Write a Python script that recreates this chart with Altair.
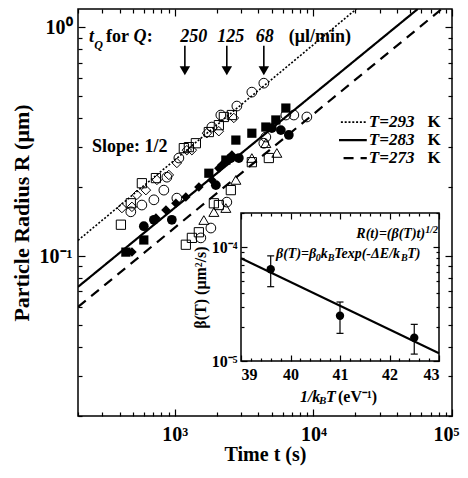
import altair as alt
import pandas as pd

FONT = "Liberation Serif"
W, H = 374, 407

# ---------------- main panel: time t (s), radius R (um) ----------------
# upper branch (open symbols, T = 293 K)
up_sq_t = [408, 481, 578, 730, 1161, 1262, 1418, 1759, 2077, 2257, 2578]
up_sq_R = [0.137, 0.170, 0.208, 0.219, 0.296, 0.299, 0.311, 0.348, 0.373, 0.405, 0.413]
up_di_t = [415, 490, 532, 618, 742, 905, 1034, 1220, 1327, 1702, 2077, 2665]
up_di_R = [0.162, 0.164, 0.185, 0.194, 0.215, 0.226, 0.255, 0.290, 0.290, 0.344, 0.351, 0.401]
up_ci_t = [481, 578, 706, 833, 876, 1034, 1069, 1849, 2147, 2802, 3594, 4386]
up_ci_R = [0.156, 0.167, 0.176, 0.194, 0.221, 0.179, 0.268, 0.366, 0.413, 0.452, 0.520, 0.569]
# middle branch (filled symbols, T = 283 K)
mid_sq_t = [443, 597, 1759, 2333, 2755, 3594, 4535, 5355, 6323]
mid_sq_R = [0.104, 0.1175, 0.230, 0.2625, 0.321, 0.344, 0.366, 0.393, 0.443]
mid_ci_t = [597, 706, 951, 1976, 2535, 2896, 5011, 5819, 6645]
mid_ci_R = [0.135, 0.144, 0.144, 0.204, 0.268, 0.268, 0.362, 0.355, 0.338]
mid_di_t = [490, 730, 862, 1017, 1200, 1490, 1849, 2077, 2182, 2578]
mid_di_R = [0.104, 0.1465, 0.159, 0.170, 0.181, 0.200, 0.215, 0.242, 0.250, 0.276]
# lower branch (open symbols, T = 273 K)
lo_sq_t = [1200, 1327, 1490, 1912, 2077, 2535, 3594, 4767]
lo_sq_R = [0.112, 0.120, 0.127, 0.170, 0.167, 0.194, 0.257, 0.268]
lo_ci_t = [1540, 1819, 2372, 4386, 4535, 6323, 7222, 8964]
lo_ci_R = [0.120, 0.1325, 0.172, 0.311, 0.331, 0.413, 0.413, 0.405]
lo_tr_t = [1619, 1912, 2333, 2755, 3594, 4535, 5445]
lo_tr_R = [0.1436, 0.1556, 0.162, 0.215, 0.268, 0.311, 0.282]

# fitted slope-1/2 lines (end points) and legend key samples
fit_T = ["293", "283", "273"]
fit_t0 = [200, 200, 200]
fit_R0 = [0.117, 0.0733, 0.0599]
fit_t1 = [20400, 56600, 84300]
fit_R1 = [1.2, 1.2, 1.2]
key_t0 = [15780, 15300, 16500]
key_t1 = [24270, 24270, 24270]
key_R = [0.3847, 0.3210, 0.2679]
key_lbl = ["T=293", "T=283", "T=273"]
key_lbl_t = 25100
key_K_t = 83000

# arrows marking t_Q
arrow_t = [1181, 2371, 4386]
arrow_R_top = 0.83
arrow_R_bot = 0.66
arrow_head_R = 0.645
q_vals = ["250", "125", "68"]
q_t = [1371, 2535, 4457]
q_R = 0.904

x_ticks = [200, 300, 400, 500, 600, 700, 800, 900,
           1000, 2000, 3000, 4000, 5000, 6000, 7000, 8000, 9000,
           10000, 20000, 30000, 40000, 50000, 60000, 70000, 80000, 90000, 100000]
y_ticks = [0.02, 0.03, 0.04, 0.05, 0.06, 0.07, 0.08, 0.09,
           0.1, 0.2, 0.3, 0.4, 0.5, 0.6, 0.7, 0.8, 0.9, 1.0]

# ---------------- inset: beta(T) vs 1/kBT ----------------
in_x = [39.6, 41.0, 42.5]
in_b = [6.4e-5, 2.5e-5, 1.6e-5]
in_lo = [4.5e-5, 1.75e-5, 1.15e-5]
in_hi = [8.4e-5, 3.3e-5, 2.1e-5]
in_fit_x = [39.0, 43.0]
in_fit_b = [8.0e-5, 1.17e-5]
in_x_ticks = [39 + 0.2 * i for i in range(21)]
in_y_ticks = [1e-5, 2e-5, 3e-5, 4e-5, 5e-5, 6e-5, 7e-5, 8e-5, 9e-5, 1e-4, 2e-4]

# ---------------- scales / axes ----------------
xs = alt.Scale(type="log", domain=[200, 100000], nice=False)
ys = alt.Scale(type="log", domain=[0.02, 1.2], nice=False)
xs_in = alt.Scale(type="linear", domain=[39, 43], range=[163, 361], nice=False, zero=False)
ys_in = alt.Scale(type="log", domain=[1e-5, 2e-4], range=[352, 204], nice=False)

x_major = "datum.value == 1000 || datum.value == 10000 || datum.value == 100000"
y_major = "datum.value == 0.1 || datum.value == 1"
ix_major = "abs(datum.value - round(datum.value)) < 0.01"
iy_major = "datum.value == 0.0001 || datum.value == 0.00001"


def tsize(test, big, small):
    return {"condition": {"test": test, "value": big}, "value": small}


ax_x = alt.Axis(values=[1000, 10000, 100000],
                labelExpr="datum.value == 1000 ? '10³' : datum.value == 10000 ? '10⁴' : '10⁵'",
                ticks=False, tickSize=0, domain=False, grid=False, labelFlush=True,
                labelFlushOffset=7, labelPadding=8, labelFontSize=20,
                title="Time t (s)", titleFontSize=20, titlePadding=0, zindex=1)
ax_y = alt.Axis(values=[0.1, 1.0],
                labelExpr="datum.value == 1 ? '10⁰' : '10⁻¹'",
                ticks=False, tickSize=0, domain=False, grid=False, labelPadding=6,
                labelFontSize=20, title="Particle Radius R (μm)", titleFontSize=22,
                titlePadding=6, zindex=1)

X = alt.X("t:Q", scale=xs, axis=ax_x)
Y = alt.Y("R:Q", scale=ys, axis=ax_y)


def pts(t, R, shape):
    return pd.DataFrame({"t": t, "R": R, "shape": shape})


open_df = pd.concat([
    pts(up_sq_t, up_sq_R, "square"), pts(up_di_t, up_di_R, "diamond"),
    pts(up_ci_t, up_ci_R, "circle"), pts(lo_sq_t, lo_sq_R, "square"),
    pts(lo_ci_t, lo_ci_R, "circle"), pts(lo_tr_t, lo_tr_R, "triangle-up")])
filled_df = pd.concat([
    pts(mid_sq_t, mid_sq_R, "square"), pts(mid_ci_t, mid_ci_R, "circle"),
    pts(mid_di_t, mid_di_R, "diamond")])

shape_dom = ["square", "diamond", "circle", "triangle-up"]
shp = alt.Shape("shape:N", scale=alt.Scale(domain=shape_dom, range=shape_dom), legend=None)
siz = alt.Size("shape:N", scale=alt.Scale(domain=shape_dom, range=[85, 100, 75, 75]), legend=None)

open_pts = alt.Chart(open_df).mark_point(filled=False, color="black", strokeWidth=1, opacity=1).encode(
    x=X, y=Y, shape=shp, size=siz)
filled_pts = alt.Chart(filled_df).mark_point(filled=True, color="black", opacity=1).encode(
    x=X, y=Y, shape=shp, size=siz)

# lines
rows = []
for i, T in enumerate(fit_T):
    rows += [{"T": T, "seg": "fit", "t": fit_t0[i], "R": fit_R0[i]},
             {"T": T, "seg": "fit", "t": fit_t1[i], "R": fit_R1[i]},
             {"T": T, "seg": "key", "t": key_t0[i], "R": key_R[i]},
             {"T": T, "seg": "key", "t": key_t1[i], "R": key_R[i]}]
line_df = pd.DataFrame(rows)
line_styles = {"293": ([2, 1.8], 1.6), "283": ([1, 0], 2.2), "273": ([10, 7], 2.2)}
line_layers = []
for T in fit_T:
    dash, w = line_styles[T]
    line_layers.append(
        alt.Chart(line_df[line_df["T"] == T]).mark_line(
            color="black", strokeDash=dash, strokeWidth=w, clip=True).encode(
            x=X, y=Y, detail="seg:N"))

# arrows
arr_df = pd.DataFrame({"t": arrow_t, "R": [arrow_R_top] * 3, "R2": [arrow_R_bot] * 3})
arr_rule = alt.Chart(arr_df).mark_rule(color="black", strokeWidth=1.6).encode(
    x=X, y=Y, y2=alt.Y2("R2"))
head_df = pd.DataFrame({"t": arrow_t, "R": [arrow_head_R] * 3})
arr_head = alt.Chart(head_df).mark_point(shape="triangle-down", filled=True, color="black",
                                         size=110, opacity=1).encode(x=X, y=Y)


def txt(df, **kw):
    base = dict(font=FONT, color="black", baseline="middle", fontWeight="bold")
    base.update(kw)
    return alt.Chart(df).mark_text(**base).encode(x=X, y=Y, text="s:N")


ann = [
    txt(pd.DataFrame({"t": [240], "R": [0.904], "s": ["t"]}), fontStyle="italic", fontSize=18, align="left"),
    txt(pd.DataFrame({"t": [262], "R": [0.835], "s": ["Q"]}), fontStyle="italic", fontSize=12, align="left"),
    txt(pd.DataFrame({"t": [318], "R": [0.904], "s": ["for"]}), fontSize=18, align="left"),
    txt(pd.DataFrame({"t": [502], "R": [0.904], "s": ["Q"]}), fontStyle="italic", fontSize=18, align="left"),
    txt(pd.DataFrame({"t": [628], "R": [0.904], "s": [":"]}), fontSize=18, align="left"),
    txt(pd.DataFrame({"t": q_t, "R": [q_R] * 3, "s": q_vals}), fontStyle="italic", fontSize=18, align="center"),
    txt(pd.DataFrame({"t": [6645], "R": [0.904], "s": ["(μl/min)"]}), fontSize=18, align="left"),
    txt(pd.DataFrame({"t": [252], "R": [0.299], "s": ["Slope: 1/2"]}), fontSize=18, align="left"),
    txt(pd.DataFrame({"t": [key_lbl_t] * 3, "R": key_R, "s": key_lbl}), fontStyle="italic", fontSize=17, align="left"),
    txt(pd.DataFrame({"t": [key_K_t] * 3, "R": key_R, "s": ["K"] * 3}), fontSize=17, align="right"),
]

main = alt.layer(*line_layers, open_pts, filled_pts, arr_rule, arr_head, *ann)

# inward tick layers for the main frame
anchor = pd.DataFrame({"t": [1000], "R": [0.1]})


def main_ticks(xo, xoff, yo, yoff):
    return alt.Chart(anchor).mark_point(opacity=0).encode(
        x=alt.X("t:Q", scale=xs, axis=alt.Axis(
            orient=xo, offset=xoff, values=x_ticks, labels=False, domain=False, grid=False,
            title=None, tickSize=tsize(x_major, 7, 4), tickWidth=1.2, tickColor="black", zindex=1)),
        y=alt.Y("R:Q", scale=ys, axis=alt.Axis(
            orient=yo, offset=yoff, values=y_ticks, labels=False, domain=False, grid=False,
            title=None, tickSize=tsize(y_major, 7, 4), tickWidth=1.2, tickColor="black", zindex=1)))


mt1 = main_ticks("top", -H, "right", -W)
mt2 = main_ticks("bottom", -H, "left", -W)

# ---------------- inset ----------------
ax_ix = alt.Axis(orient="bottom", offset=-(H - 352), values=[39, 40, 41, 42, 43], format="d",
                 ticks=False, tickSize=0, domain=False, grid=False, labelPadding=5,
                 labelFontSize=16, title=None, zindex=2)
ax_iy = alt.Axis(orient="left", offset=-163, values=[1e-4, 1e-5],
                 labelExpr="datum.value > 0.00005 ? '10⁻⁴' : '10⁻⁵'",
                 ticks=False, tickSize=0, domain=False, grid=False, labelPadding=4,
                 labelFontSize=16, title="β(T) (μm²/s)", titleFontSize=16, titlePadding=3, zindex=2)
IX = alt.X("x:Q", scale=xs_in, axis=ax_ix)
IY = alt.Y("b:Q", scale=ys_in, axis=ax_iy)

frame_df = pd.DataFrame({"x": [39], "x2": [43], "b": [1e-5], "b2": [2e-4]})
frame = alt.Chart(frame_df).mark_rect(fill="white", stroke="black", strokeWidth=1.5).encode(
    x=IX, x2=alt.X2("x2"), y=IY, y2=alt.Y2("b2"))
fit_in = alt.Chart(pd.DataFrame({"x": in_fit_x, "b": in_fit_b})).mark_line(
    color="black", strokeWidth=2).encode(x=IX, y=IY)
err_df = pd.DataFrame({"x": in_x, "b": in_lo, "b2": in_hi})
err = alt.Chart(err_df).mark_rule(color="black", strokeWidth=1.2).encode(x=IX, y=IY, y2=alt.Y2("b2"))
cap_df = pd.DataFrame({"x": in_x + in_x, "b": in_lo + in_hi})
caps = alt.Chart(cap_df).mark_tick(orient="horizontal", size=7, thickness=1.2, color="black",
                                   opacity=1).encode(x=IX, y=IY)
dots = alt.Chart(pd.DataFrame({"x": in_x, "b": in_b})).mark_point(
    filled=True, shape="circle", size=70, color="black", opacity=1).encode(x=IX, y=IY)


def itxt(df, **kw):
    base = dict(font=FONT, color="black", baseline="middle", fontWeight="bold", align="left")
    base.update(kw)
    return alt.Chart(df).mark_text(**base).encode(x=IX, y=IY, text="s:N")


f_main = pd.DataFrame({"x": [39.707, 40.610, 40.883, 42.360],
                       "b": [8.7e-5] * 4,
                       "s": ["β(T)=β", "k", "Texp(-ΔE/k", "T)"]})
f_sub = pd.DataFrame({"x": [40.509, 40.752, 42.230], "b": [8.0e-5] * 3, "s": ["0", "B", "B"]})
inset_text = [
    itxt(pd.DataFrame({"x": [42.72], "b": [1.3e-4], "s": ["R(t)=(β(T)t)"]}), fontStyle="italic",
         fontSize=14, align="right"),
    itxt(pd.DataFrame({"x": [42.72], "b": [1.42e-4], "s": ["1/2"]}), fontStyle="italic", fontSize=10),
    itxt(f_main, fontStyle="italic", fontSize=14),
    itxt(f_sub, fontStyle="italic", fontSize=10),
    itxt(pd.DataFrame({"x": [40.19], "b": [4.87e-6], "s": ["1/k"]}), fontStyle="italic", fontSize=16),
    itxt(pd.DataFrame({"x": [40.576], "b": [4.45e-6], "s": ["B"]}), fontStyle="italic", fontSize=11),
    itxt(pd.DataFrame({"x": [40.717], "b": [4.87e-6], "s": ["T"]}), fontStyle="italic", fontSize=16),
    itxt(pd.DataFrame({"x": [40.96], "b": [4.87e-6], "s": ["(eV⁻¹)"]}), fontSize=16),
]

inset = alt.layer(frame, fit_in, err, caps, dots, *inset_text)

in_anchor = pd.DataFrame({"x": [41], "b": [5e-5]})


def inset_ticks(xo, xoff, yo, yoff):
    return alt.Chart(in_anchor).mark_point(opacity=0).encode(
        x=alt.X("x:Q", scale=xs_in, axis=alt.Axis(
            orient=xo, offset=xoff, values=in_x_ticks, labels=False, domain=False, grid=False,
            title=None, tickSize=tsize(ix_major, 6, 3), tickWidth=1.2, tickColor="black", zindex=2)),
        y=alt.Y("b:Q", scale=ys_in, axis=alt.Axis(
            orient=yo, offset=yoff, values=in_y_ticks, labels=False, domain=False, grid=False,
            title=None, tickSize=tsize(iy_major, 6, 3), tickWidth=1.2, tickColor="black", zindex=2)))


it1 = inset_ticks("top", -352, "right", 163 - W)   # bottom edge (up), left edge (right)
it2 = inset_ticks("bottom", 204 - H, "left", -361)  # top edge (down), right edge (left)

chart = alt.layer(main, mt1, mt2, inset, it1, it2).resolve_scale(
    x="independent", y="independent"
).properties(
    width=W, height=H,
    autosize=alt.AutoSizeParams(type="none"),
    padding={"left": 70, "top": 1, "right": 8, "bottom": 50},
).configure_view(
    stroke="black", strokeWidth=1.5
).configure_axis(
    labelFont=FONT, titleFont=FONT, labelFontWeight="bold", titleFontWeight="bold",
    labelColor="black", titleColor="black", tickColor="black", grid=False
)

chart.save("out.html", embed_options={"renderer": "svg", "actions": False})
